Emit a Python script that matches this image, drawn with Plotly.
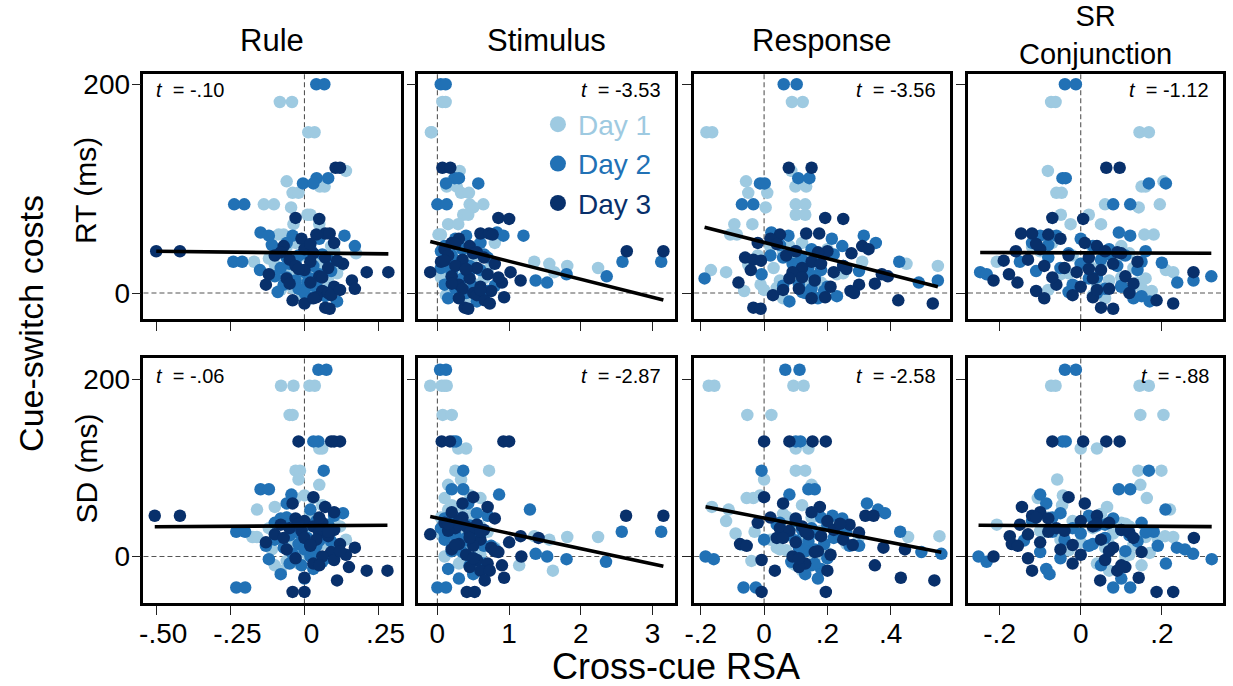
import plotly.graph_objects as go

W, H = 1233, 686

day_names = ["Day 1", "Day 2", "Day 3"]
day_colors = ["#9ecae1", "#2171b5", "#08306b"]
panel_titles = ["Rule", "Stimulus", "Response", "SR<br>Conjunction"]
row_labels = ["RT (ms)", "SD (ms)"]
y_title = "Cue-switch costs"
x_title = "Cross-cue RSA"

# ---- cue-switch costs (y), shared across the four predictors of a row ----
rt_y_day1 = [183,183,154,154,117,107,102,102,96,96,85,85,82,75,75,66,66,56,56,48,
             45,42,40,38,36,33,30,28,26,24,22,20,18,15,12,10,8,5,2,-5,
             44,35,27,19,14,9,3,-2]
rt_y_day2 = [200,200,110,110,105,105,85,85,58,55,55,55,52,48,45,42,40,38,36,34,
             32,30,30,28,26,24,22,20,18,16,14,12,10,8,6,4,2,0,-5,-8,
             46,37,29,21,15,7,1,-3]
rt_y_day3 = [120,120,72,71,57,57,56,52,48,45,42,40,40,38,36,34,32,30,28,26,
             24,22,20,20,18,16,14,12,10,8,6,4,2,0,-2,-4,-7,-10,-14,-15,
             47,39,31,23,15,9,3,-5]

sd_y_day1 = [193,193,193,193,160,160,122,122,97,97,87,81,69,66,66,58,56,53,48,44,
             40,38,36,34,32,29,26,23,22,22,19,16,13,10,7,4,0,-5,-10,-16,
             45,37,28,20,14,8,2,-8]
sd_y_day2 = [211,211,130,130,97,76,76,70,60,53,49,46,43,40,38,35,32,30,28,28,
             26,24,21,19,17,14,12,10,8,5,3,0,-3,-6,-10,-14,-20,-25,-35,-35,
             44,36,27,18,12,6,-2,-8]
sd_y_day3 = [130,130,130,130,67,60,56,50,46,46,43,40,38,36,34,32,30,29,27,25,
             23,21,19,16,14,12,10,8,5,2,0,-4,-8,-12,-16,-16,-24,-27,-40,-40,
             44,37,28,21,13,6,-2,-10]

# ---- cross-cue RSA (x) per predictor, RT row ----
rt_x_rule_day1 = [-0.083,-0.042,0.013,0.034,0.14,-0.06,0.052,0.068,-0.04,-0.02,-0.137,-0.103,-0.045,0.01,0.02,-0.037,0.05,-0.087,-0.07,-0.03,
                  0.09,0.02,0.10,0.174,-0.01,-0.12,-0.17,0.06,0.12,-0.05,0.0,0.04,-0.08,0.08,-0.02,0.02,0.0,-0.04,0.03,-0.01,
                  -0.06,0.05,-0.1,0.11,-0.03,0.07,-0.08,0.01]
rt_x_rule_day2 = [0.04,0.067,0.041,0.08,-0.005,0.03,-0.237,-0.203,-0.148,-0.12,0.135,-0.04,0.05,-0.06,0.17,0.02,-0.09,0.0,-0.02,-0.06,
                  0.08,-0.24,-0.21,-0.05,0.03,-0.08,-0.15,0.0,0.05,-0.1,0.02,-0.03,0.01,-0.07,0.04,-0.02,0.06,0.0,0.02,0.11,
                  -0.11,0.06,-0.03,0.09,-0.06,0.03,-0.09,0.07]
rt_x_rule_day3 = [0.105,0.12,-0.03,0.05,0.07,0.085,0.04,-0.01,0.1,-0.07,0.0,-0.50,-0.42,0.03,-0.1,0.07,-0.05,0.02,0.13,-0.03,
                  0.08,0.0,0.21,0.283,-0.12,0.05,-0.06,0.16,0.02,-0.13,0.1,0.17,0.06,0.08,0.09,0.04,-0.04,0.0,0.07,0.085,
                  0.02,-0.08,0.11,-0.02,0.06,-0.05,0.12,0.03]

rt_x_stim_day1 = [0.07,0.115,-0.09,-0.08,0.31,0.2,0.13,0.27,0.33,0.44,0.45,0.64,0.5,0.36,0.43,0.15,0.29,0.015,0.05,0.8,
                  0.55,0.25,0.4,0.1,0.6,0.2,1.35,1.56,1.81,2.24,0.7,1.63,0.3,0.05,0.45,0.15,0.55,0.35,0.25,0.4,
                  0.2,0.5,0.3,0.1,0.65,0.2,0.45,0.12]
rt_x_stim_day2 = [0.047,0.115,0.24,0.3,0.57,0.12,0.0,0.13,0.83,0.92,1.2,0.4,0.25,0.6,0.1,0.35,0.05,0.5,0.2,0.7,
                  0.15,2.58,3.12,0.3,0.45,0.05,0.6,0.2,1.8,2.36,0.35,1.37,1.53,0.1,0.5,0.25,0.7,0.4,0.15,0.55,
                  0.3,0.65,0.1,0.45,0.2,0.8,0.35,0.6]
rt_x_stim_day3 = [0.07,0.18,0.85,1.0,0.6,0.72,0.77,0.3,0.2,0.45,0.1,2.64,3.15,0.5,0.15,0.65,0.35,0.05,0.8,0.25,
                  0.55,0.4,-0.1,1.02,0.7,0.2,0.45,1.16,0.9,0.3,0.6,0.35,0.75,0.5,0.55,0.93,0.66,0.73,0.38,0.43,
                  0.25,0.55,0.1,0.4,0.85,0.2,0.6,0.3]

rt_x_resp_day1 = [0.088,0.122,-0.182,-0.164,0.086,-0.057,0.099,0.133,-0.05,0.01,0.1,0.13,0.005,0.1,0.13,-0.094,-0.037,-0.107,-0.086,0.12,
                  0.08,0.2,0.06,0.15,-0.02,0.1,0.31,0.45,0.549,0.03,-0.168,-0.12,0.23,0.12,0.05,0.18,-0.011,0.04,-0.063,0.06,
                  0.02,0.17,-0.05,0.25,0.1,0.14,0.0,0.2]
rt_x_resp_day2 = [0.062,0.103,0.108,0.143,-0.013,0.002,-0.07,-0.034,0.023,0.04,0.077,0.315,0.214,0.353,0.247,0.15,0.1,0.2,0.02,0.06,
                  0.12,0.427,0.17,0.09,0.25,0.14,0.18,0.13,-0.008,0.16,-0.188,0.549,0.489,0.11,0.2,0.15,0.19,0.13,0.17,0.08,
                  0.05,0.22,0.11,0.3,0.16,0.06,0.12,0.23]
rt_x_resp_day3 = [0.078,0.15,0.193,0.25,0.133,0.174,0.05,0.02,-0.02,0.31,0.33,0.1,0.2,0.276,0.07,-0.06,-0.034,0.15,0.18,0.25,
                  0.12,-0.042,0.09,0.22,0.372,0.391,0.08,0.16,-0.081,0.3,0.21,0.11,0.273,0.284,0.028,0.193,0.424,0.533,-0.034,-0.011,
                  0.04,0.17,-0.01,0.26,0.12,0.35,0.06,0.15]

rt_x_sr_day1 = [-0.073,-0.062,0.145,0.168,-0.081,0.204,0.15,0.16,-0.06,-0.047,0.195,0.06,0.143,-0.049,0.02,-0.025,0.05,0.157,0.18,-0.07,
                0.1,0.03,-0.1,0.12,-0.02,0.08,-0.207,0.0,0.05,0.13,0.21,0.228,-0.05,0.1,0.07,0.14,0.04,0.15,0.175,0.06,
                -0.12,0.09,0.02,-0.03,0.16,0.11,-0.08,0.03]
rt_x_sr_day2 = [-0.039,-0.012,-0.045,-0.037,0.168,0.21,0.08,0.122,0.094,0.122,-0.1,-0.06,0.0,-0.12,0.03,0.07,0.16,-0.03,0.11,-0.08,
                0.05,0.15,-0.15,0.0,0.09,-0.05,0.14,-0.248,-0.232,0.322,0.02,0.278,0.238,-0.02,0.1,0.06,0.12,0.04,0.13,0.17,
                -0.08,0.07,0.2,-0.11,0.04,0.1,-0.03,0.15]
rt_x_sr_day3 = [0.063,0.096,-0.07,0.006,-0.147,-0.12,-0.08,-0.05,0.01,0.04,-0.1,0.06,-0.16,0.1,-0.03,0.02,-0.13,0.14,0.08,-0.09,
                -0.04,0.05,0.278,-0.01,-0.177,0.11,0.03,-0.215,-0.156,-0.06,0.0,0.07,-0.11,0.12,-0.02,0.03,0.187,0.228,0.05,0.08,
                -0.11,0.09,-0.19,0.02,-0.07,0.13,0.04,-0.09]

# ---- cross-cue RSA (x) per predictor, SD row ----
sd_x_rule_day1 = [-0.079,-0.037,0.017,0.035,-0.05,-0.04,0.05,0.06,-0.03,-0.015,-0.02,0.05,0.0,0.03,-0.03,0.06,-0.1,-0.16,0.02,-0.06,
                  0.1,-0.08,0.04,0.12,-0.12,0.0,0.08,-0.03,-0.176,-0.16,0.14,0.05,-0.05,0.02,0.1,-0.02,0.03,-0.06,-0.1,-0.08,
                  0.02,-0.07,0.09,-0.04,0.06,-0.11,0.01,-0.02]
sd_x_rule_day2 = [0.047,0.074,0.047,0.03,0.065,-0.148,-0.12,-0.044,-0.06,0.02,0.13,0.1,-0.08,0.04,-0.1,0.0,0.07,-0.03,-0.23,-0.2,
                  0.05,-0.05,0.01,-0.1,0.09,-0.02,0.04,-0.07,0.0,0.11,-0.04,0.02,-0.12,0.06,-0.01,0.03,-0.08,0.0,-0.23,-0.2,
                  -0.06,0.08,-0.02,0.05,-0.13,0.03,0.09,-0.05]
sd_x_rule_day3 = [-0.02,0.1,0.12,0.09,0.03,-0.04,0.07,0.1,-0.505,-0.42,-0.03,0.0,0.06,-0.08,0.03,-0.05,0.1,-0.01,0.05,-0.1,
                  0.08,0.0,0.04,-0.13,0.12,0.02,0.17,-0.06,0.09,0.14,0.06,0.1,0.03,0.15,0.21,0.28,0.0,0.11,-0.04,0.0,
                  0.05,-0.02,0.08,-0.07,0.02,0.12,-0.03,0.05]

sd_x_stim_day1 = [-0.1,0.06,0.13,0.1,0.074,0.2,0.29,0.4,0.72,0.25,0.33,0.15,0.46,0.6,0.1,0.2,0.35,0.15,0.5,0.05,
                  0.25,0.4,0.1,0.6,0.3,0.15,0.05,1.35,1.81,2.24,1.56,0.2,0.45,0.8,0.3,0.55,0.1,0.35,1.14,1.61,
                  0.4,0.2,0.7,0.1,0.5,0.25,0.6,0.3]
sd_x_stim_day2 = [0.037,0.12,0.26,0.22,0.36,0.2,0.36,0.86,0.43,1.29,0.55,0.7,0.1,0.3,0.2,0.45,0.05,0.15,2.57,3.12,
                  0.6,0.25,0.4,0.1,0.5,0.3,0.65,0.2,0.8,0.35,1.37,1.53,1.8,2.35,0.45,0.15,0.5,0.3,0.0,0.12,
                  0.25,0.55,0.1,0.4,0.75,0.2,0.5,0.65]
sd_x_stim_day3 = [0.06,0.175,0.92,1.0,0.5,0.35,0.7,0.2,2.63,3.15,0.8,0.3,0.1,0.55,0.4,0.25,0.65,0.15,0.45,-0.1,
                  1.16,1.41,0.6,1.0,0.3,0.5,0.75,0.2,0.85,0.4,1.17,0.55,0.7,0.45,0.6,0.73,0.93,0.66,0.41,0.52,
                  0.35,0.15,0.6,0.45,0.25,0.8,0.5,0.9]

sd_x_resp_day1 = [0.0925,0.125,-0.175,-0.157,-0.053,0.023,0.1,0.14,0.1,0.13,0.0,0.15,-0.013,-0.055,-0.034,0.12,-0.165,-0.112,0.06,0.15,
                  -0.12,0.2,0.1,0.05,0.25,0.18,-0.09,0.554,0.455,0.3,0.02,0.13,-0.07,0.04,0.07,0.2,0.16,-0.04,0.1,0.12,
                  0.07,0.2,-0.03,0.12,0.26,0.05,0.17,0.09]
sd_x_resp_day2 = [0.067,0.112,0.115,0.1,-0.008,0.14,0.16,0.08,0.325,0.36,0.382,0.216,0.247,0.1,0.05,0.2,0.15,0.12,0.43,0.26,
                  0.17,0.08,0.22,0.0,0.14,0.19,0.3,0.11,0.16,0.497,0.56,-0.185,-0.159,0.086,0.15,0.18,0.13,0.17,-0.065,-0.026,
                  0.18,0.04,0.23,0.1,0.27,0.13,0.2,0.16]
sd_x_resp_day3 = [0.08,0.153,0.195,0.0,0.0,0.06,0.176,0.15,0.32,0.346,0.1,0.2,-0.02,0.27,0.12,0.05,0.22,0.08,0.3,0.14,
                  0.18,0.04,0.25,0.1,-0.076,-0.055,0.377,0.445,0.16,0.21,0.09,-0.008,0.13,0.11,0.2,0.034,0.432,0.538,0.195,-0.008,
                  0.02,0.24,0.13,0.06,0.28,0.17,0.11,0.35]

sd_x_sr_day1 = [-0.073,-0.062,0.145,0.168,0.147,0.204,0.0,0.04,0.142,0.199,-0.058,0.147,-0.044,-0.106,0.163,-0.046,0.065,0.22,0.05,-0.08,
                -0.02,0.1,-0.207,0.12,0.03,-0.1,0.08,0.208,0.228,0.16,-0.05,0.0,0.13,0.06,-0.03,0.17,0.11,0.06,0.15,0.07,
                0.02,0.11,-0.09,0.19,0.07,-0.03,0.12,0.04]
sd_x_sr_day2 = [-0.039,-0.012,-0.045,-0.037,0.168,0.094,0.122,-0.1,-0.085,0.209,-0.05,0.02,0.08,-0.12,0.15,0.04,-0.02,0.1,0.18,-0.07,
                0.0,0.12,0.06,-0.04,0.14,0.03,0.19,0.237,0.257,-0.1,0.277,-0.252,0.323,-0.232,0.05,-0.085,-0.077,0.1,0.08,0.122,
                -0.07,0.06,0.16,-0.14,0.02,0.11,-0.05,0.21]
sd_x_sr_day3 = [-0.07,0.006,0.063,0.096,-0.03,0.01,-0.145,-0.1,-0.12,0.04,-0.08,0.0,0.07,-0.15,0.03,-0.06,0.1,-0.04,0.12,-0.13,
                -0.175,0.279,0.05,-0.1,-0.17,-0.155,0.08,-0.05,0.15,0.0,-0.215,0.06,-0.02,0.11,-0.12,0.09,0.143,0.048,0.187,0.228,
                -0.11,0.04,-0.08,0.13,-0.02,0.07,-0.13,0.1]

# ---- fitted regression lines and t statistics ----
rt_fit_intercept = [38.4, 47.7, 48.5, 38.5]
rt_fit_slope = [-3.2, -17.27, -77.3, -1.2]
sd_fit_intercept = [34.7, 43.4, 43.5, 34.6]
sd_fit_slope = [2.05, -17.24, -69.0, -2.64]
rt_t_values = ["-.10", "-3.53", "-3.56", "-1.12"]
sd_t_values = ["-.06", "-2.87", "-2.58", "-.88"]

# ---- axis ticks ----
x_tickvals = [[-0.5, -0.25, 0, 0.25], [0, 1, 2, 3], [-0.2, 0, 0.2, 0.4], [-0.2, 0, 0.2]]
x_ticktext = [["-.50", "-.25", "0", ".25"], ["0", "1", "2", "3"], ["-.2", "0", ".2", ".4"], ["-.2", "0", ".2"]]
y_tickvals = [0, 200]
y_ticktext = ["0", "200"]

# ---- assemble ----
y_rows = [[rt_y_day1, rt_y_day2, rt_y_day3], [sd_y_day1, sd_y_day2, sd_y_day3]]
x_rows = [
    [[rt_x_rule_day1, rt_x_rule_day2, rt_x_rule_day3],
     [rt_x_stim_day1, rt_x_stim_day2, rt_x_stim_day3],
     [rt_x_resp_day1, rt_x_resp_day2, rt_x_resp_day3],
     [rt_x_sr_day1, rt_x_sr_day2, rt_x_sr_day3]],
    [[sd_x_rule_day1, sd_x_rule_day2, sd_x_rule_day3],
     [sd_x_stim_day1, sd_x_stim_day2, sd_x_stim_day3],
     [sd_x_resp_day1, sd_x_resp_day2, sd_x_resp_day3],
     [sd_x_sr_day1, sd_x_sr_day2, sd_x_sr_day3]],
]
fits = [(rt_fit_intercept, rt_fit_slope), (sd_fit_intercept, sd_fit_slope)]
t_rows = [rt_t_values, sd_t_values]

for r in range(2):
    for c in range(4):
        for d in range(3):
            if len(x_rows[r][c][d]) != len(y_rows[r][d]):
                raise ValueError(f"length mismatch row {r} col {c} day {d}")

# layout geometry (pixels)
col_px = [(135, 395), (413, 673), (692, 951), (969, 1227)]
row_px = [(70, 317), (356, 603)]
x_ranges = [[-0.543, 0.324], [-0.266, 3.317], [-0.221, 0.588], [-0.278, 0.351]]
y_ranges = [[-25, 210.2], [-53.1, 224.4]]

FONT = "Liberation Sans, Arial, Helvetica, sans-serif"
fig = go.Figure()
layout_axes = {}
shapes = []
annotations = []

for r in range(2):
    for c in range(4):
        k = r * 4 + c + 1
        xn = "x" if k == 1 else f"x{k}"
        yn = "y" if k == 1 else f"y{k}"
        xkey = "xaxis" if k == 1 else f"xaxis{k}"
        ykey = "yaxis" if k == 1 else f"yaxis{k}"
        x0p, x1p = col_px[c]
        y0p, y1p = row_px[r]
        layout_axes[xkey] = dict(
            domain=[x0p / W, x1p / W], range=x_ranges[c], anchor=yn,
            tickvals=x_tickvals[c], ticktext=x_ticktext[c], showticklabels=(r == 1),
            ticks="outside", ticklen=9, tickwidth=1, tickcolor="#222",
            ticklabelstandoff=-6,
            showline=True, linewidth=2.6, linecolor="black", mirror=True,
            showgrid=False, zeroline=False,
            tickfont=dict(size=28, color="black", family=FONT),
        )
        if c == 0:
            layout_axes[xkey]["ticklabelshift"] = 7
        layout_axes[ykey] = dict(
            domain=[1 - y1p / H, 1 - y0p / H], range=y_ranges[r], anchor=xn,
            tickvals=y_tickvals, ticktext=y_ticktext, showticklabels=(c == 0),
            ticks="outside", ticklen=9, tickwidth=1, tickcolor="#222",
            ticklabelstandoff=-4,
            showline=True, linewidth=2.6, linecolor="black", mirror=True,
            showgrid=False, zeroline=False,
            tickfont=dict(size=28, color="black", family=FONT),
        )
        # dashed reference lines at zero
        shapes.append(dict(type="line", xref=f"{xn} domain", yref=yn, x0=0, x1=1, y0=0, y1=0,
                           line=dict(color="#555", width=1.1, dash="5px,3px"), layer="below"))
        shapes.append(dict(type="line", xref=xn, yref=f"{yn} domain", x0=0, x1=0, y0=0, y1=1,
                           line=dict(color="#555", width=1.1, dash="5px,3px"), layer="below"))
        all_x = []
        for d in range(3):
            xs = x_rows[r][c][d]
            all_x += xs
            fig.add_trace(go.Scatter(
                x=xs, y=y_rows[r][d], mode="markers", xaxis=xn, yaxis=yn,
                marker=dict(size=12.5, color=day_colors[d], line=dict(width=0)),
                showlegend=False, hoverinfo="skip",
            ))
        icpt, slope = fits[r][0][c], fits[r][1][c]
        lx = [min(all_x), max(all_x)]
        fig.add_trace(go.Scatter(
            x=lx, y=[icpt + slope * v for v in lx], mode="lines", xaxis=xn, yaxis=yn,
            line=dict(color="black", width=3.6), showlegend=False, hoverinfo="skip",
        ))
        # t annotation
        t_text = "<i>t</i>\u00a0\u00a0= " + t_rows[r][c]
        ty = (87 if r == 0 else 374)
        if c == 0:
            annotations.append(dict(text=t_text, xref="paper", yref="paper",
                                    x=(x0p + 11) / W, y=1 - ty / H, xanchor="left", yanchor="middle",
                                    showarrow=False, font=dict(size=20, color="black", family=FONT)))
        else:
            annotations.append(dict(text=t_text, xref="paper", yref="paper",
                                    x=(x1p - 12) / W, y=1 - ty / H, xanchor="right", yanchor="middle",
                                    showarrow=False, font=dict(size=20, color="black", family=FONT)))

# legend entries (legend-only traces)
for d in range(3):
    fig.add_trace(go.Scatter(
        x=[None], y=[None], mode="markers", xaxis="x2", yaxis="y2",
        marker=dict(size=16, color=day_colors[d]),
        name=f"<span style='color:{day_colors[d]}'>{day_names[d]}</span>",
        showlegend=True,
    ))

# column titles
title_x = [(a + b) / 2 for a, b in col_px]
for c in range(3):
    annotations.append(dict(text=panel_titles[c], xref="paper", yref="paper",
                            x=title_x[c] / W, y=1 - 37 / H, xanchor="center", yanchor="middle",
                            showarrow=False, font=dict(size=31, color="black", family=FONT)))
annotations.append(dict(text=panel_titles[3], xref="paper", yref="paper",
                        x=title_x[3] / W, y=1 - 31 / H, xanchor="center", yanchor="middle",
                        showarrow=False, font=dict(size=29, color="black", family=FONT)))

# axis titles
annotations.append(dict(text=y_title, xref="paper", yref="paper", x=21 / W, y=1 - 321 / H,
                        textangle=-90, xanchor="center", yanchor="middle", showarrow=False,
                        font=dict(size=34, color="black", family=FONT)))
annotations.append(dict(text=row_labels[0], xref="paper", yref="paper", x=77 / W, y=1 - 188 / H,
                        textangle=-90, xanchor="center", yanchor="middle", showarrow=False,
                        font=dict(size=30, color="black", family=FONT)))
annotations.append(dict(text=row_labels[1], xref="paper", yref="paper", x=77 / W, y=1 - 467 / H,
                        textangle=-90, xanchor="center", yanchor="middle", showarrow=False,
                        font=dict(size=30, color="black", family=FONT)))
annotations.append(dict(text=x_title, xref="paper", yref="paper", x=674 / W, y=1 - 666 / H,
                        xanchor="center", yanchor="middle", showarrow=False,
                        font=dict(size=36, color="black", family=FONT)))

fig.update_layout(
    width=W, height=H,
    margin=dict(l=0, r=0, t=0, b=0),
    paper_bgcolor="white", plot_bgcolor="white",
    font=dict(family=FONT, color="black"),
    shapes=shapes, annotations=annotations,
    showlegend=True,
    legend=dict(x=534 / W, y=1 - 96 / H, xanchor="left", yanchor="top",
                bgcolor="rgba(0,0,0,0)", borderwidth=0,
                font=dict(size=28, family=FONT), itemsizing="trace",
                tracegroupgap=0),
    **layout_axes,
)

fig.write_html("out.html", config={"displayModeBar": False})
